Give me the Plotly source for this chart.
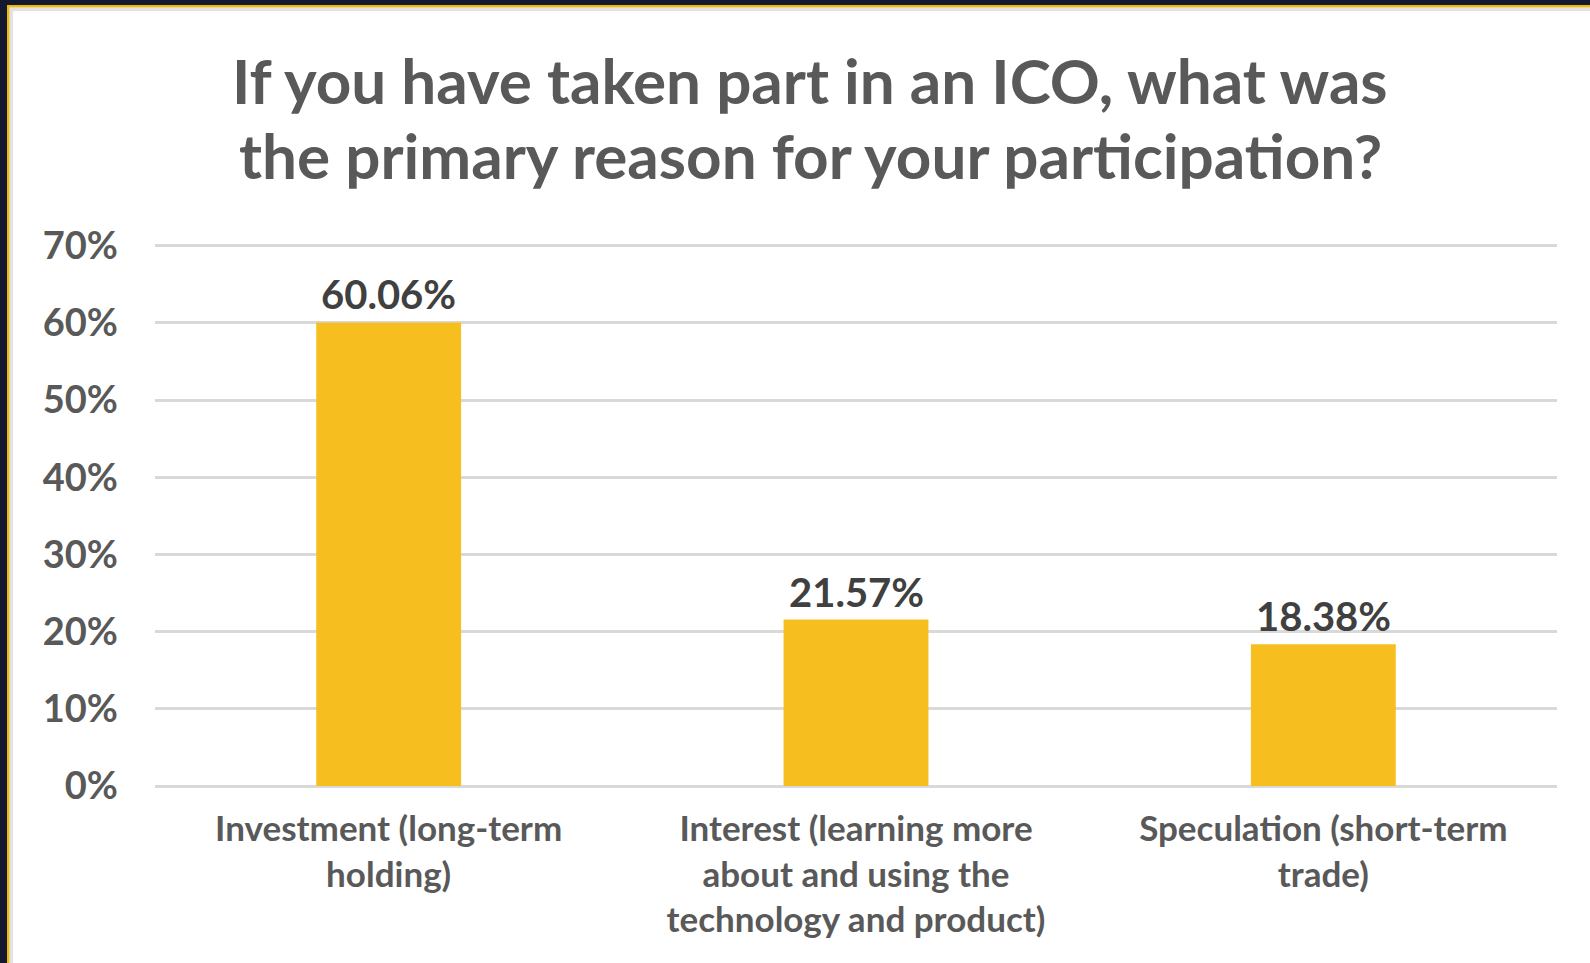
import plotly.graph_objects as go

categories = [
    "Investment (long-term<br>holding)",
    "Interest (learning more<br>about and using the<br>technology and product)",
    "Speculation (short-term<br>trade)",
]
values = [60.06, 21.57, 18.38]
value_labels = ["60.06%", "21.57%", "18.38%"]
y_ticks = [0, 10, 20, 30, 40, 50, 60, 70]
y_tick_labels = ["0%", "10%", "20%", "30%", "40%", "50%", "60%", "70%"]
title_lines = ["If you have taken part in an ICO, what was",
               "the primary reason for your participation?"]

W, H = 1590, 963
ML, MR, MT, MB = 155, 33, 238, 177
PW, PH = W - ML - MR, H - MT - MB


def px(x):
    return (x - ML) / PW


def py(y):
    return (H - MB - y) / PH


FONT = "Lato"
BAR = "#F6BF1F"
GRID = "#d9d9d9"
TXT = "#595959"
DARK = "#141a2e"

fig = go.Figure()
fig.add_trace(go.Bar(
    x=categories, y=values, width=0.31,
    marker=dict(color=BAR, line=dict(width=0)),
    hoverinfo="skip",
))

for c, v, t in zip(categories, values, value_labels):
    fig.add_annotation(x=c, y=v, text=t, showarrow=False, yanchor="bottom",
                       yshift=2, font=dict(family=FONT, size=40, color="#404040", weight="bold"))

for line, yc in zip(title_lines, [80, 155]):
    fig.add_annotation(xref="paper", yref="paper", x=px(810), y=py(yc), xanchor="center",
                       yanchor="middle", text=line, showarrow=False,
                       font=dict(family=FONT, size=62, color=TXT, weight="bold"))

shapes = [
    # shadow
    dict(type="rect", xref="paper", yref="paper", x0=px(9), x1=px(W + 5), y0=py(7), y1=py(11),
         fillcolor="#e2e2e2", line=dict(width=0), layer="above"),
    dict(type="rect", xref="paper", yref="paper", x0=px(9), x1=px(13), y0=py(7), y1=py(H + 5),
         fillcolor="#e2e2e2", line=dict(width=0), layer="above"),
    # yellow
    dict(type="rect", xref="paper", yref="paper", x0=px(7), x1=px(W + 5), y0=py(5), y1=py(7.3),
         fillcolor="#F5B800", line=dict(width=0), layer="above"),
    dict(type="rect", xref="paper", yref="paper", x0=px(7), x1=px(9.3), y0=py(5), y1=py(H + 5),
         fillcolor="#F5B800", line=dict(width=0), layer="above"),
    # dark
    dict(type="rect", xref="paper", yref="paper", x0=px(-5), x1=px(W + 5), y0=py(-5), y1=py(5),
         fillcolor=DARK, line=dict(width=0), layer="above"),
    dict(type="rect", xref="paper", yref="paper", x0=px(-5), x1=px(7), y0=py(-5), y1=py(H + 5),
         fillcolor=DARK, line=dict(width=0), layer="above"),
]

fig.update_layout(
    width=W, height=H,
    margin=dict(l=ML, r=MR, t=MT, b=MB, pad=0),
    paper_bgcolor="white", plot_bgcolor="white",
    showlegend=False,
    shapes=shapes,
    xaxis=dict(
        showgrid=False, zeroline=False, showline=False, ticks="",
        tickfont=dict(family=FONT, size=35, color=TXT, weight="bold"),
        ticklabelstandoff=19,
    ),
    yaxis=dict(
        range=[0, 71],
        tickvals=y_ticks, ticktext=y_tick_labels,
        showgrid=True, gridcolor=GRID, gridwidth=3,
        zeroline=True, zerolinecolor=GRID, zerolinewidth=3,
        showline=False, ticks="",
        tickfont=dict(family=FONT, size=38, color=TXT, weight="bold"),
        ticklabelstandoff=36,
    ),
)

fig.write_html(
    "out.html",
    config={"displayModeBar": False},
    post_script="document.body.style.margin='0';document.body.style.overflow='hidden';",
)
